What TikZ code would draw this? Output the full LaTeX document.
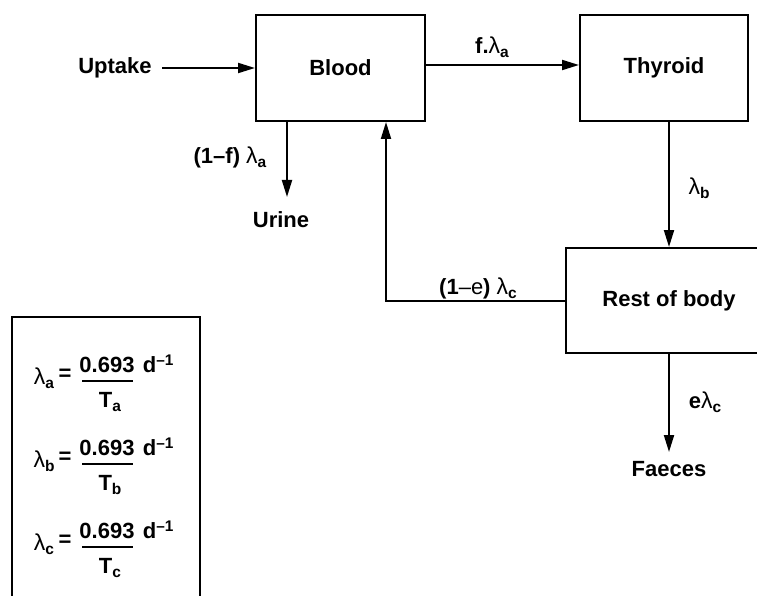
\documentclass[tikz,border=0pt]{standalone}
\usepackage{fontspec}
\setmainfont{Liberation Sans}
\usetikzlibrary{arrows.meta}
\newcommand{\sbx}[1]{\raisebox{-4pt}{\fontsize{15.5}{16}\selectfont\bfseries #1}}
\newcommand{\lm}[1]{{\mdseries\fontsize{23}{25}\selectfont λ}\sbx{#1}}
\begin{document}
\begin{tikzpicture}[x=1pt,y=-1pt,
  every node/.style={font=\fontsize{22}{26}\selectfont\bfseries},
  box/.style={draw,line width=2pt,inner sep=0pt},
  arr/.style={line width=2pt,-{Triangle[length=17pt,width=10pt]}},
  frame/.style={line width=2pt},
  bar/.style={line width=1.8pt}]
\useasboundingbox (0,0) rectangle (757,596);
% boxes
\node[box,minimum width=169pt,minimum height=106pt] (blood) at (340.5,68) {Blood};
\node[box,minimum width=168pt,minimum height=106pt] (thyroid) at (664,68) {Thyroid};
\node[box,minimum width=206pt,minimum height=105pt] (rest) at (669,300.5) {Rest of body};
% terminals
\node (uptake) at (115,68) {Uptake};
\node[anchor=north] (urine) at (281,208) {Urine};
\node[anchor=north,inner ysep=9pt] (faeces) at (669,452) {Faeces};
\coordinate (u) at (287,197);
\coordinate (fb) at (386,121);
% connectors
\draw[arr,shorten <=7pt] (uptake.east) -- (blood.west);
\draw[arr] ([yshift=3pt]blood.east) -- ([yshift=3pt]thyroid.west);
\draw[arr] (blood.south -| u) -- (u);
\draw[arr] (rest.north |- thyroid.south) -- (rest.north);
\draw[arr] (rest.west) -| (blood.south -| fb);
\draw[arr] (rest.south) -- (faeces.north);
% labels
\node (lf) at (492,47) {f.\lm{a}};
\node (l1f) at (230,157) {(1–f) \lm{a}};
\node (lb) at (699,188) {\lm{b}};
\node (l1e) at (478,288) {(1{\mdseries –e}) \lm{c}};
\node (le) at (705,402) {e\lm{c}};
% legend
\draw[frame] (12,620) -- (12,317) -- (200,317) -- (200,620);
\foreach \s/\Y in {a/375,b/458,c/541}{
  \node (lam\s) at (44,\Y+3) {\lm{\s}};
  \node (eq\s) at (65,\Y) {=};
  \node[inner xsep=0pt] (num\s) at (107,\Y-10) {0.693};
  \node (den\s) at (110,\Y+27) {T\sbx{\s}};
  \node[anchor=base west,inner xsep=0pt] (d\s) at ([xshift=8pt]num\s.base east) {d\textsuperscript{–1}};
  \draw[bar] (82,\Y+6) -- (133,\Y+6);
}
\end{tikzpicture}
\end{document}
